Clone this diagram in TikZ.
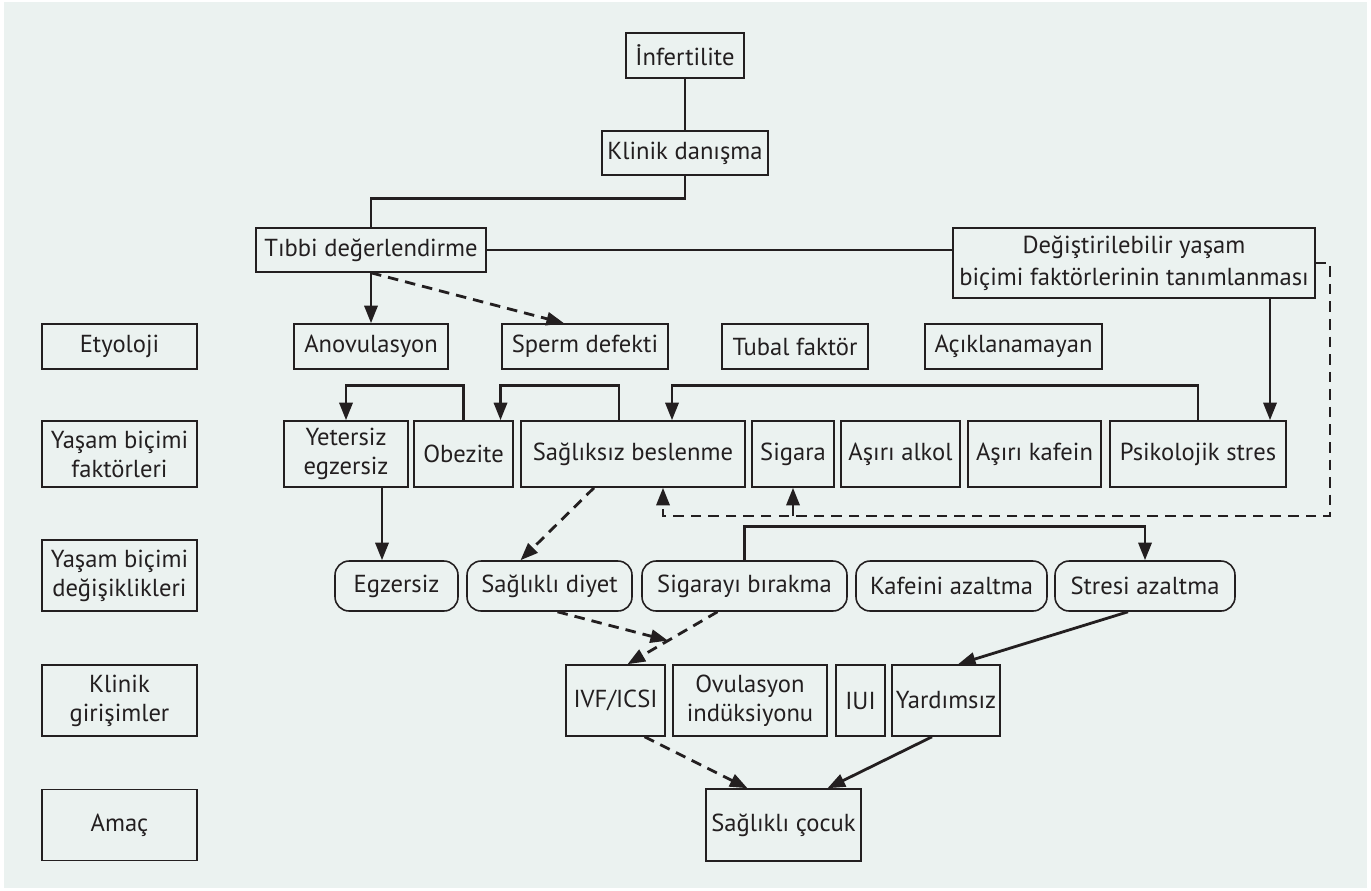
\documentclass[tikz,border=0pt]{standalone}
\usepackage{fontspec}
\setmainfont{PT Sans}
\usepackage{xcolor}
\usetikzlibrary{arrows.meta,calc}
\definecolor{zemin}{RGB}{235,242,240}
\definecolor{cizgi}{RGB}{35,31,32}

\begin{document}
\begin{tikzpicture}[x=0.02cm,y=-0.02cm]
\tikzstyle{every node}+=[inner sep=0pt,font=\fontsize{14}{16.5}\selectfont,text=cizgi]
\tikzstyle{kutu}=[draw=cizgi,line width=0.9pt,align=center]
\tikzstyle{oval}=[kutu,rounded corners=8pt]
\tikzstyle{hat}=[draw=cizgi,line width=1.6pt]
\tikzstyle{ok}=[hat,-{Triangle[length=10pt,width=7.5pt]}]
\tikzstyle{kesik}=[ok,dash pattern=on 6pt off 4pt]
\useasboundingbox (0,0) rectangle (1371,890);
\fill [zemin] (4,2) rectangle (1367,888);
% sol sutun
\node [kutu,minimum width=3.1cm,minimum height=0.9cm] (etyoloji) at (119.5,346.5) {Etyoloji};
\node [kutu,minimum width=3.1cm,minimum height=1.32cm] (lfaktor) at (119.5,454) {Yaşam biçimi\\faktörleri};
\node [kutu,minimum width=3.1cm,minimum height=1.42cm] (ldegis) at (119.5,575.5) {Yaşam biçimi\\değişiklikleri};
\node [kutu,minimum width=3.1cm,minimum height=1.42cm] (lgiris) at (119.5,700.5) {Klinik\\girişimler};
\node [kutu,minimum width=3.1cm,minimum height=1.42cm] (lamac) at (119.5,825) {Amaç};
% ust kisim
\node [kutu,minimum width=2.36cm,minimum height=0.9cm] (inf) at (685,55.5) {İnfertilite};
\node [kutu,minimum width=3.32cm,minimum height=0.88cm] (klinik) at (685,153) {Klinik danışma};
\node [kutu,minimum width=4.6cm,minimum height=0.88cm] (tibbi) at (371,250) {Tıbbi değerlendirme};
\node [kutu,minimum width=7.24cm,minimum height=1.4cm,font=\fontsize{14}{18.5}\selectfont] (tanim) at (1134,263) {Değiştirilebilir yaşam\\biçimi faktörlerinin tanımlanması};
% etyoloji
\node [kutu,minimum width=3.08cm,minimum height=0.9cm] (anov) at (371,346.5) {Anovulasyon};
\node [kutu,minimum width=3.32cm,minimum height=0.9cm] (sperm) at (585,346.5) {Sperm defekti};
\node [kutu,minimum width=2.92cm,minimum height=0.9cm] (tubal) at (795,346.5) {Tubal faktör};
\node [kutu,minimum width=3.54cm,minimum height=0.9cm] (acik) at (1013.5,346.5) {Açıklanamayan};
% yasam bicimi faktorleri
\node [kutu,minimum width=2.48cm,minimum height=1.32cm] (yetersiz) at (346,454) {Yetersiz\\egzersiz};
\node [kutu,minimum width=1.98cm,minimum height=1.32cm] (obezite) at (463.5,454) {Obezite};
\node [kutu,minimum width=4.48cm,minimum height=1.32cm] (sagliksiz) at (633,454) {Sağlıksız beslenme};
\node [kutu,minimum width=1.64cm,minimum height=1.32cm] (sigara) at (793,454) {Sigara};
\node [kutu,minimum width=2.38cm,minimum height=1.32cm] (alkol) at (900.5,454) {Aşırı alkol};
\node [kutu,minimum width=2.66cm,minimum height=1.32cm] (kafein) at (1034.5,454) {Aşırı kafein};
\node [kutu,minimum width=3.52cm,minimum height=1.32cm] (stres) at (1198,454) {Psikolojik stres};
% degisiklikler
\node [oval,minimum width=2.46cm,minimum height=1cm] (egzersiz) at (396.5,586) {Egzersiz};
\node [oval,minimum width=3.3cm,minimum height=1cm] (diyet) at (549.5,586) {Sağlıklı diyet};
\node [oval,minimum width=4.1cm,minimum height=1cm] (birak) at (744.5,586) {Sigarayı bırakma};
\node [oval,minimum width=3.82cm,minimum height=1cm] (kafazalt) at (951.5,586) {Kafeini azaltma};
\node [oval,minimum width=3.6cm,minimum height=1cm] (strazalt) at (1145,586) {Stresi azaltma};
% klinik girisimler
\node [kutu,minimum width=1.98cm,minimum height=1.42cm] (ivf) at (615.5,700.5) {IVF/ICSI};
\node [kutu,minimum width=3.08cm,minimum height=1.42cm] (ovul) at (750,700.5) {Ovulasyon\\indüksiyonu};
\node [kutu,minimum width=0.98cm,minimum height=1.42cm] (iui) at (860.5,700.5) {IUI};
\node [kutu,minimum width=2.16cm,minimum height=1.42cm] (yardim) at (946,700.5) {Yardımsız};
\node [kutu,minimum width=3.1cm,minimum height=1.44cm] (cocuk) at (783.5,825) {Sağlıklı çocuk};
% baglantilar
\draw [hat] (inf.south) -- (klinik.north);
\draw [hat] (klinik.south) -- ++(0,23) -| (tibbi.north);
\draw [hat] (tibbi.east) -- (tibbi.east -| tanim.west);
\draw [ok] (tibbi.south) -- (anov.north);
\draw [kesik] (tibbi.south) -- ($(sperm.north)+(-21,0)$);
\draw [ok] ($(tanim.south)+(136,0)$) coordinate (t1) -- (t1 |- stres.north);
\coordinate (geri) at (1330,516);
\draw [kesik] (tanim.east) -| (geri) -| ($(sagliksiz.south)+(30,0)$);
\draw [kesik] (sigara.south |- geri) -- (sigara.south);
\draw [ok] (obezite.north) -- ++(0,-35) -| (yetersiz.north);
\draw [ok] ($(sagliksiz.north)+(-14,0)$) -- ++(0,-35) -| ($(obezite.north)+(37,0)$);
\draw [ok] (stres.north) -- ++(0,-35) -| ($(sagliksiz.north)+(39,0)$);
\draw [ok] ($(yetersiz.south)+(36,0)$) coordinate (y1) -- (y1 |- egzersiz.north);
\draw [kesik] ($(sagliksiz.south)+(-39,0)$) -- ($(diyet.north)+(-29,0)$);
\draw [ok] (birak.north) -- ++(0,-34) -| (strazalt.north);
\coordinate (sb) at ($(birak.south)+(-27,0)$);
\coordinate (iv) at ($(ivf.north)+(12,0)$);
\draw [kesik] (sb) -- (iv);
\draw [kesik] ($(diyet.south)+(8,0)$) -- ($(sb)!0.55!(iv)$);
\draw [ok] ($(strazalt.south)+(-17,0)$) -- ($(yardim.north)+(12,0)$);
\draw [kesik] ($(ivf.south)+(29,0)$) -- ($(cocuk.north)+(-36,0)$);
\draw [ok] ($(yardim.south)+(-14,0)$) -- ($(cocuk.north)+(44,0)$);
\end{tikzpicture}
\end{document}
